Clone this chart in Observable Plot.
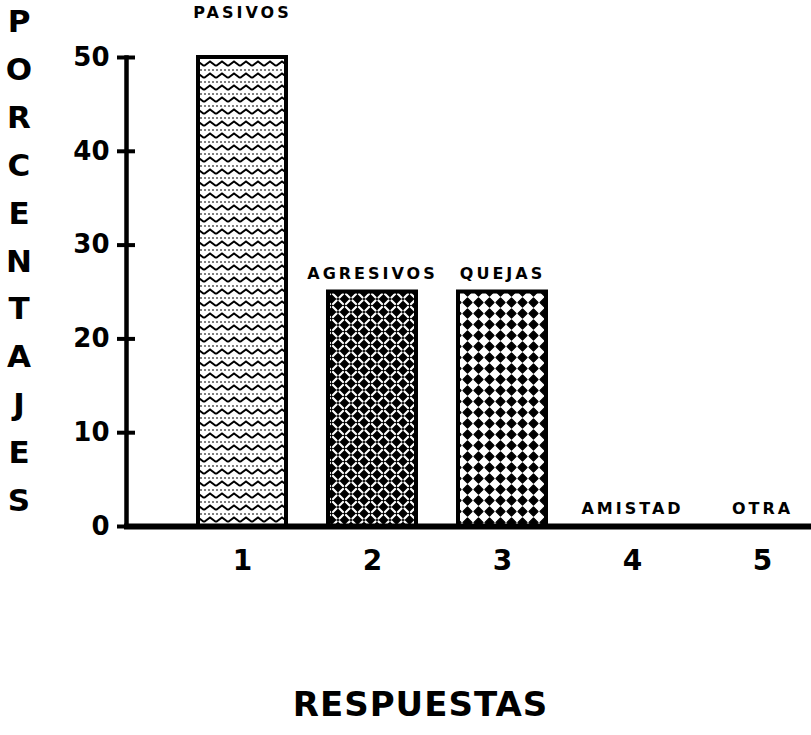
<!DOCTYPE html>
<html>
<head>
<meta charset="utf-8">
<script src="https://cdn.jsdelivr.net/npm/d3@7"></script>
<script src="https://cdn.jsdelivr.net/npm/@observablehq/plot@0.6"></script>
<style>
  html, body { margin: 0; padding: 0; background: #fff; }
  #wrap { position: relative; width: 811px; height: 735px; overflow: hidden; font-family: "DejaVu Sans", sans-serif; color: #000; }
  #ytitle { position: absolute; left: 0; top: -2px; width: 38px; text-align: center; font-weight: 900; font-size: 31px; line-height: 47.9px; }
  #ytitle span { display: block; }
  #xtitle { position: absolute; left: 0; width: 811px; top: 684px; text-align: center; font-weight: 900; font-size: 34px; letter-spacing: 1px; padding-left: 30px; box-sizing: border-box; }
  #wrap svg g[aria-label="text"] text { letter-spacing: 3px; }
</style>
</head>
<body>
<div id="wrap">
  <div id="ytitle"></div>
  <div id="xtitle">RESPUESTAS</div>
</div>
<script>
// Response categories, their names and percentages
const categories = ["1", "2", "3", "4", "5"];
const names = ["PASIVOS", "AGRESIVOS", "QUEJAS", "AMISTAD", "OTRA"];
const percents = [50, 25, 25, 0, 0];
const yTicks = [0, 10, 20, 30, 40, 50];
const yTitle = "PORCENTAJES";
const xTitle = "RESPUESTAS";

const rows = categories.map((c, i) => ({cat: c, name: names[i], value: percents[i]}));

// hatch pattern for each response
const patternOf = {"1": "pat-zigzag", "2": "pat-weave", "3": "pat-diamonds", "4": "pat-zigzag", "5": "pat-zigzag"};

const yMax = d3.max(percents);

const chart = Plot.plot({
  width: 811,
  height: 620,
  marginTop: 57,
  marginBottom: 94,
  marginLeft: 126,
  marginRight: 0,
  style: {fontFamily: "DejaVu Sans, sans-serif", color: "#000", background: "#fff"},
  x: {domain: categories, range: [151, 853], paddingInner: 0.32, paddingOuter: 0.34},
  y: {domain: [0, yMax]},
  color: {type: "identity"},
  marks: [
    Plot.barY(rows.filter(d => d.value > 0), {
      x: "cat", y: "value",
      fill: d => `url(#${patternOf[d.cat]})`,
      stroke: "#000", strokeWidth: 4
    }),
    Plot.frame({anchor: "left", stroke: "#000", strokeWidth: 4.5}),
    Plot.ruleY([0], {stroke: "#000", strokeWidth: 6, insetLeft: -2}),
    Plot.axisY({
      ticks: yTicks, tickSize: 18, dx: 9, tickPadding: 8,
      strokeWidth: 4, fontSize: 26, fontWeight: 900, label: null
    }),
    Plot.axisX({
      tickSize: 0, tickPadding: 24, fontSize: 28, fontWeight: 900, label: null
    }),
    // names above the bars; the tallest bar's name sits well above the frame
    Plot.text(rows.filter(d => d.value === yMax), {
      x: "cat", y: "value", text: "name", dy: -45,
      fontSize: 16, fontWeight: 900, fill: "#000"
    }),
    Plot.text(rows.filter(d => d.value !== yMax), {
      x: "cat", y: "value", text: "name", dy: -18,
      fontSize: 16, fontWeight: 900, fill: "#000"
    })
  ]
});

// pattern fills for the bars
const defs = d3.select(chart).insert("defs", ":first-child");

const zig = defs.append("pattern").attr("id", "pat-zigzag")
  .attr("patternUnits", "userSpaceOnUse").attr("width", 12).attr("height", 12);
zig.append("rect").attr("width", 12).attr("height", 12).attr("fill", "#fff");
zig.append("path").attr("d", "M0,6 L6,1.5 L12,6").attr("fill", "none")
  .attr("stroke", "#000").attr("stroke-width", 2);
zig.append("path").attr("d", "M0,10 H12").attr("fill", "none")
  .attr("stroke", "#000").attr("stroke-width", 1.2).attr("stroke-dasharray", "2,2");

const weave = defs.append("pattern").attr("id", "pat-weave")
  .attr("patternUnits", "userSpaceOnUse").attr("width", 13).attr("height", 13);
weave.append("rect").attr("width", 13).attr("height", 13).attr("fill", "#000");
weave.append("path")
  .attr("d", "M1.5,1.5 L5,5 M8,5 L11.5,1.5 M1.5,11.5 L5,8 M8,8 L11.5,11.5")
  .attr("fill", "none").attr("stroke", "#fff").attr("stroke-width", 2.2)
  .attr("stroke-linecap", "round");

const dia = defs.append("pattern").attr("id", "pat-diamonds")
  .attr("patternUnits", "userSpaceOnUse").attr("width", 11).attr("height", 11);
dia.append("rect").attr("width", 11).attr("height", 11).attr("fill", "#fff");
dia.append("path").attr("d", "M5.5,1 L10,5.5 L5.5,10 L1,5.5 Z")
  .attr("fill", "#000").attr("stroke", "#000").attr("stroke-width", 1.2)
  .attr("stroke-linejoin", "round");

const wrap = document.getElementById("wrap");
chart.style.position = "absolute";
chart.style.left = "0";
chart.style.top = "0";
wrap.insertBefore(chart, wrap.firstChild);

// vertical title, one letter per line
const yt = document.getElementById("ytitle");
for (const ch of yTitle) {
  const s = document.createElement("span");
  s.textContent = ch;
  yt.appendChild(s);
}
document.getElementById("xtitle").textContent = xTitle;
</script>
</body>
</html>
